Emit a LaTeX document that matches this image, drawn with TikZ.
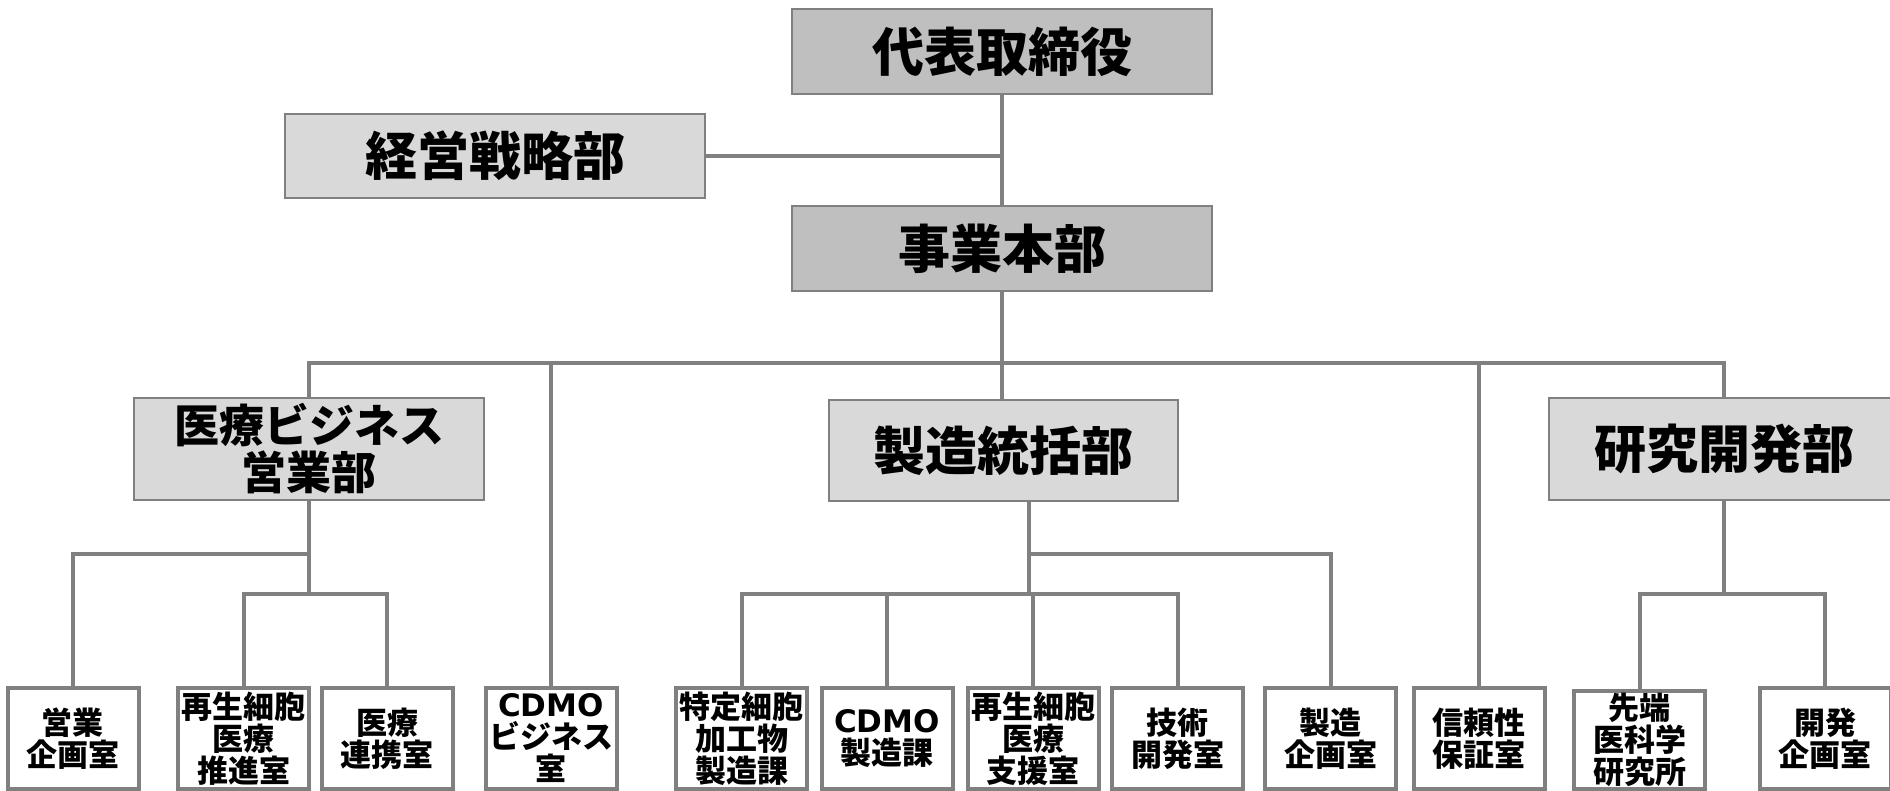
\documentclass[tikz,border=0pt]{standalone}
\usepackage{fontspec}
\newfontfamily\jp{Noto Sans CJK JP}
\newfontfamily\lat{DejaVu Sans}
\usetikzlibrary{backgrounds}
\definecolor{linegray}{HTML}{808080}
\definecolor{darkfill}{HTML}{BFBFBF}
\definecolor{lightfill}{HTML}{D9D9D9}
\newcommand{\cdmotext}{{\lat\bfseries CDMO}}
\begin{document}
\begin{tikzpicture}[x=1pt,y=-1pt,
  conn/.style={draw=linegray, line width=4pt},
  topbox/.style={draw=linegray, line width=2pt, fill=darkfill, minimum width=420pt, minimum height=85pt, inner sep=0pt, align=center, font=\jp\bfseries\fontsize{52}{58}\selectfont},
  midbox/.style={draw=linegray, line width=2pt, fill=lightfill, minimum width=350pt, minimum height=102pt, inner sep=0pt, align=center, font=\jp\bfseries\fontsize{52}{58}\selectfont},
  leafbox/.style={draw=linegray, line width=4pt, fill=white, minimum width=131pt, minimum height=101pt, inner sep=0pt, align=center, font=\jp\bfseries\fontsize{31}{32}\selectfont}
]
\useasboundingbox (0,0) rectangle (1890,791);
\clip (0,0) rectangle (1890,791);

% upper levels
\node[topbox] (ceo) at (1002,51.5) {代表取締役};
\node[midbox, minimum width=420pt, minimum height=84pt] (strat) at (495,156) {経営戦略部};
\node[topbox] (hq) at (1002,249) {事業本部};
\node[midbox, font=\jp\bfseries\fontsize{45}{47}\selectfont] (med) at (309,449) {医療ビジネス\\営業部};
\node[midbox, minimum width=349pt, minimum height=101pt] (mfg) at (1003.5,450.5) {製造統括部};
\node[midbox] (rd) at (1724,449) {研究開発部};

% leaves
\node[leafbox] (eigyo) at (73,738.5) {営業\\企画室};
\node[leafbox] (saisei1) at (243.5,738.5) {再生細胞\\医療\\推進室};
\node[leafbox] (renkei) at (387,738.5) {医療\\連携室};
\node[leafbox] (cdmob) at (551,738.5) {\cdmotext\\ビジネス\\室};
\node[leafbox] (tokutei) at (741.5,738.5) {特定細胞\\加工物\\製造課};
\node[leafbox] (cdmos) at (887,738.5) {\cdmotext\\製造課};
\node[leafbox] (saisei2) at (1033,738.5) {再生細胞\\医療\\支援室};
\node[leafbox] (gijutsu) at (1177.5,738.5) {技術\\開発室};
\node[leafbox] (seizok) at (1330.5,738.5) {製造\\企画室};
\node[leafbox] (shinrai) at (1479,738.5) {信頼性\\保証室};
\node[leafbox, minimum height=98pt] (sentan) at (1639.5,740) {先端\\医科学\\研究所};
\node[leafbox] (kaihatsu) at (1825,738.5) {開発\\企画室};

\coordinate (bus) at (0,363);
\coordinate (m1) at (0,554);
\coordinate (m2) at (0,594);
\coordinate (mfgout) at ([xshift=25.5pt]mfg.south);

\begin{scope}[on background layer]
\draw[conn] (ceo.south) -- (hq.north);
\draw[conn] (strat.east) -- (strat.east -| ceo.south);
\draw[conn] (hq.south) -- (hq.south |- mfg.north);
\draw[conn] (med.north) -- (med.north |- bus) -- (rd.north |- bus) -- (rd.north);
\draw[conn] (cdmob.north) -- (cdmob.north |- bus);
\draw[conn] (shinrai.north) -- (shinrai.north |- bus);
% medical branch
\draw[conn] (med.south) -- (med.south |- m2);
\draw[conn] (med.south |- m1) -- (eigyo.north |- m1) -- (eigyo.north);
\draw[conn] (saisei1.north) -- (saisei1.north |- m2) -- (renkei.north |- m2) -- (renkei.north);
% manufacturing branch
\draw[conn] (mfgout) -- (mfgout |- m2);
\draw[conn] (mfgout |- m1) -- (seizok.north |- m1) -- (seizok.north);
\draw[conn] (tokutei.north) -- (tokutei.north |- m2) -- (gijutsu.north |- m2) -- (gijutsu.north);
\draw[conn] (cdmos.north) -- (cdmos.north |- m2);
\draw[conn] (saisei2.north) -- (saisei2.north |- m2);
% R&D branch
\draw[conn] (rd.south) -- (rd.south |- m2);
\draw[conn] (sentan.north) -- (sentan.north |- m2) -- (kaihatsu.north |- m2) -- (kaihatsu.north);
\end{scope}
\end{tikzpicture}
\end{document}
